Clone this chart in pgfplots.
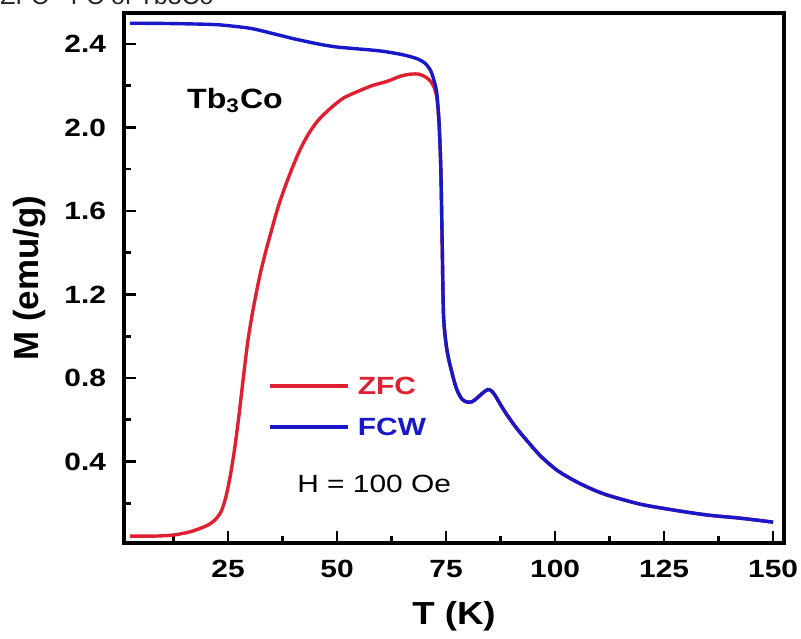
\documentclass[border=0pt]{standalone}
\usepackage{pgfplots}
\pgfplotsset{compat=1.18}
\usepackage{fontspec}
\setmainfont{Liberation Sans}

\definecolor{zfc}{RGB}{222,32,48}
\definecolor{fcw}{RGB}{24,24,200}
\newcommand\wide[1]{\scalebox{1.2}[1]{#1}}

\begin{document}
\begin{tikzpicture}
\begin{axis}[
  name=ax,
  scale only axis,
  width=330bp, height=265bp,
  xmin=1.14, xmax=152.5,
  ymin=0.01, ymax=2.548,
  xtick={25,50,75,100,125,150},
  minor xtick={12.5,37.5,62.5,87.5,112.5,137.5},
  ytick={0.4,0.8,1.2,1.6,2.0,2.4},
  minor ytick={0.2,0.6,1.0,1.4,1.8,2.2},
  yticklabel style={/pgf/number format/fixed, /pgf/number format/precision=1,
    /pgf/number format/fixed zerofill, xshift=-4bp},
  xticklabel style={yshift=-5bp},
  /pgf/number format/assume math mode=true,
  tick label style={font=\fontsize{12.5}{14}\selectfont\bfseries, xscale=1.2},
  tick align=inside, tick pos=left,
  major tick length=6bp, minor tick length=3.5bp,
  every tick/.style={black, line width=1.3bp},
  axis line style={line width=1.6bp},
  xlabel={T (K)},
  ylabel={M (emu/g)},
  xlabel style={at={(axis description cs:0.5,-0.1377)}, anchor=center,
    font=\fontsize{16}{18}\selectfont\bfseries, xscale=1.15},
  ylabel style={at={(axis description cs:-0.1424,0.5)}, anchor=center, rotate=0,
    font=\fontsize{17.5}{19}\selectfont\bfseries},
  legend style={draw=none, fill=none, at={(axis cs:34.2,0.664)}, anchor=west,
    inner sep=0pt, row sep=11.5bp, column sep=4bp,
    font=\fontsize{12.5}{14}\selectfont\bfseries,
    nodes={inner sep=0pt, text height=9bp, text depth=0pt}},
  legend cell align=left,
  legend image code/.code={\draw[#1] (0bp,0bp) -- (39bp,0bp);},
]
  % ZFC
  \addplot[zfc, line width=1.7bp, smooth, tension=0.45] coordinates {
    (2.5,0.043) (8,0.043) (12.4,0.048) (16,0.062) (18.6,0.080) (20.5,0.097)
    (22,0.12) (23.4,0.16) (24.5,0.23) (25.5,0.33) (26.5,0.46) (27.5,0.62)
    (28.5,0.80) (29.5,0.97) (30.5,1.10) (31.5,1.21) (32.5,1.31) (33.7,1.41)
    (35,1.51) (36.5,1.62) (38.5,1.74) (41,1.87) (43.2,1.96) (45.5,2.03)
    (48.4,2.09) (51.4,2.14) (54.5,2.17) (58,2.20) (61.4,2.22) (64.5,2.245)
    (66.8,2.255) (68.8,2.255) (70.4,2.24) (71.5,2.22) (72.3,2.19) (72.9,2.14)
    (73.4,2.02) (73.8,1.80) (74.1,1.46) (74.4,1.11) (74.9,0.98) (75.5,0.90)
    (76.6,0.805) (77.5,0.743) (78.6,0.70) (79.8,0.685) (81,0.687) (82.1,0.704)
    (83.5,0.73) (84.6,0.745) (85.5,0.737) (86.5,0.708) (87.7,0.665)
    (89,0.623) (90.8,0.570) (92.7,0.521) (96.6,0.428) (100.4,0.359)
    (104.2,0.311) (108.0,0.272) (111.9,0.240) (119.5,0.196) (127.1,0.168)
    (134.9,0.144) (142.4,0.129) (150,0.110)
  };
  \addlegendentry{\textcolor{zfc}{\wide{ZFC}}}

  % FCW
  \addplot[fcw, line width=1.7bp, smooth, tension=0.45] coordinates {
    (2.5,2.499) (10,2.498) (18,2.495) (23.2,2.491) (30,2.475) (34.6,2.453)
    (40,2.425) (46.1,2.398) (50,2.385) (53.7,2.378) (60,2.366) (65.1,2.348)
    (68.5,2.328) (70.3,2.305) (71.5,2.27) (72.3,2.22) (72.9,2.16) (73.4,2.02)
    (73.8,1.80) (74.1,1.46) (74.4,1.11) (74.9,0.98) (75.5,0.90) (76.6,0.805)
    (77.5,0.743) (78.6,0.70) (79.8,0.685) (81,0.687) (82.1,0.704) (83.5,0.73)
    (84.6,0.745) (85.5,0.737) (86.5,0.708) (87.7,0.665) (89,0.623)
    (90.8,0.570) (92.7,0.521) (96.6,0.428) (100.4,0.359) (104.2,0.311)
    (108.0,0.272) (111.9,0.240) (119.5,0.196) (127.1,0.168) (134.9,0.144)
    (142.4,0.129) (150,0.110)
  };
  \addlegendentry{\textcolor{fcw}{\wide{FCW}}}

  \node[font=\fontsize{14}{16}\selectfont\bfseries, xscale=1.15]
    at (axis cs:26.6,2.13) {Tb\textsubscript{3}Co};
  \node[font=\fontsize{12.5}{14}\selectfont, xscale=1.2, text=black]
    at (axis cs:58.5,0.292) {H = 100 Oe};
\end{axis}
\node[anchor=base west, font=\fontsize{12.5}{14}\selectfont, text=black!85, inner sep=0pt]
  at ([xshift=-62bp, yshift=4bp]ax.north west) {ZFC - FC of Tb3Co};
\pgfresetboundingbox
\useasboundingbox ([xshift=-62bp, yshift=-48bp]ax.south west)
  rectangle ([xshift=8.5bp, yshift=6.5bp]ax.north east);
\end{tikzpicture}
\end{document}
